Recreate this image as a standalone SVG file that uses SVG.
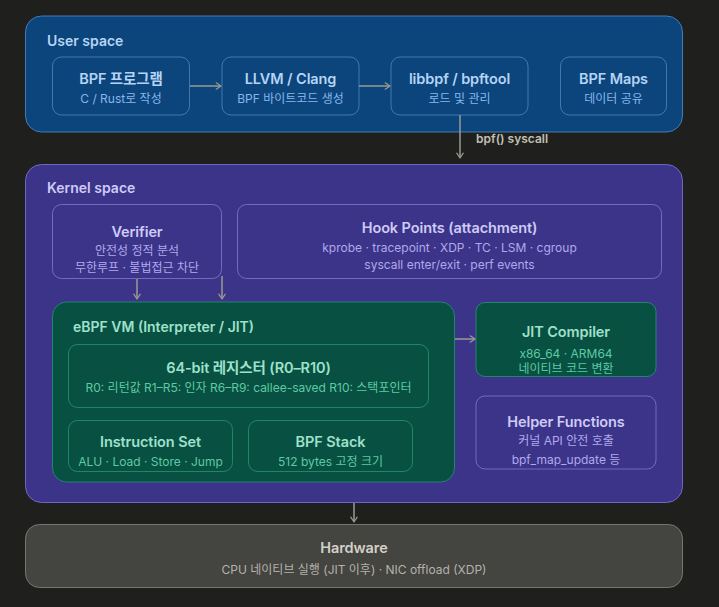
<svg xmlns="http://www.w3.org/2000/svg" width="719" height="607" viewBox="0 0 719 607">
<defs>
<marker id="arr" viewBox="0 0 10 10" refX="8" refY="5" markerWidth="8" markerHeight="8" orient="auto-start-reverse" markerUnits="userSpaceOnUse">
<path d="M2 1 L8 5 L2 9" fill="none" stroke="#9c9a92" stroke-width="1.5" stroke-linecap="round" stroke-linejoin="round"/>
</marker>
<style>
text{font-family:"Inter","Noto Sans CJK KR",sans-serif}
.t{font-size:14.5px;font-weight:600;text-anchor:middle;letter-spacing:-0.1px}
.s{font-size:12px;font-weight:400;text-anchor:middle}
.lbl{font-size:14px;font-weight:600}
.uo{fill:#0c447c;stroke:#4d8fd0;stroke-width:0.8}
.ub{fill:#0c447c;stroke:#5c8fc4;stroke-width:0.7}
.ut{fill:#b5d4f4}.us{fill:#85b7eb}
.ko{fill:#3c3489;stroke:#7f77dd;stroke-width:0.8}
.kb{fill:#3c3489;stroke:#8a83d6;stroke-width:0.7}
.kt{fill:#cecbf6}.ks{fill:#afa9ec}
.gb{fill:#085041;stroke:#2a9e78;stroke-width:0.7}
.gt{fill:#9fe1cb}.gs{fill:#5dcaa5}
.hb{fill:#444441;stroke:#888780;stroke-width:0.8}
.ht{fill:#d3d1c7}.hs{fill:#b4b2a9}
.c{stroke:#9c9a92;stroke-width:1.5;fill:none;marker-end:url(#arr)}
</style>
</defs>
<rect width="719" height="607" fill="#1f1f1d"/>

<g id="user-space">
<rect class="uo" x="25.5" y="16" width="657" height="116" rx="16"/>
<text class="lbl ut" x="47" y="46">User space</text>
</g>
<g id="bpf-program">
<rect class="ub" x="52.5" y="57" width="137" height="58" rx="9"/>
<text class="t ut" x="121" y="84">BPF 프로그램</text>
<text class="s us" x="121" y="103">C / Rust로 작성</text>
</g>
<g id="llvm">
<rect class="ub" x="222" y="57" width="137" height="58" rx="9"/>
<text class="t ut" x="290.5" y="84">LLVM / Clang</text>
<text class="s us" x="290.5" y="103">BPF 바이트코드 생성</text>
</g>
<g id="libbpf">
<rect class="ub" x="391" y="57" width="137" height="58" rx="9"/>
<text class="t ut" x="459.5" y="84">libbpf / bpftool</text>
<text class="s us" x="459.5" y="103">로드 및 관리</text>
</g>
<g id="bpf-maps">
<rect class="ub" x="560.5" y="57" width="106" height="58" rx="9"/>
<text class="t ut" x="613.5" y="84">BPF Maps</text>
<text class="s us" x="613.5" y="103">데이터 공유</text>
</g>

<g id="kernel-space">
<rect class="ko" x="25.5" y="164.5" width="657" height="338" rx="16"/>
<text class="lbl kt" x="47" y="193">Kernel space</text>
</g>
<g id="verifier">
<rect class="kb" x="52.5" y="204.5" width="169" height="74" rx="9"/>
<text class="t kt" x="137" y="237">Verifier</text>
<text class="s ks" x="137" y="255">안전성 정적 분석</text>
<text class="s ks" x="137" y="272">무한루프 · 불법접근 차단</text>
</g>
<g id="hook-points">
<rect class="kb" x="237.5" y="204.5" width="424" height="74" rx="9"/>
<text class="t kt" x="449.5" y="233">Hook Points (attachment)</text>
<text class="s ks" x="449.5" y="252">kprobe · tracepoint · XDP · TC · LSM · cgroup</text>
<text class="s ks" x="449.5" y="269">syscall enter/exit · perf events</text>
</g>

<g id="ebpf-vm">
<rect class="gb" x="52.5" y="302" width="402" height="180" rx="14"/>
<text class="lbl gt" x="73" y="332">eBPF VM (Interpreter / JIT)</text>
</g>
<g id="registers">
<rect class="gb" x="68.5" y="344.5" width="360" height="63" rx="9"/>
<text class="t gt" x="248.5" y="373">64-bit 레지스터 (R0–R10)</text>
<text class="s gs" x="248.5" y="392">R0: 리턴값 R1–R5: 인자 R6–R9: callee-saved R10: 스택포인터</text>
</g>
<g id="instruction-set">
<rect class="gb" x="68.5" y="420.5" width="164" height="51" rx="9"/>
<text class="t gt" x="150.5" y="447">Instruction Set</text>
<text class="s gs" x="150.5" y="466">ALU · Load · Store · Jump</text>
</g>
<g id="bpf-stack">
<rect class="gb" x="248.5" y="420.5" width="164" height="51" rx="9"/>
<text class="t gt" x="330.5" y="447">BPF Stack</text>
<text class="s gs" x="330.5" y="466">512 bytes 고정 크기</text>
</g>
<g id="jit-compiler">
<rect class="gb" x="476" y="302.5" width="180" height="74" rx="9"/>
<text class="t gt" x="566" y="337">JIT Compiler</text>
<text class="s gs" x="566" y="358">x86_64 · ARM64</text>
<text class="s gs" x="566" y="373">네이티브 코드 변환</text>
</g>
<g id="helper-functions">
<rect class="kb" x="476" y="396" width="180" height="73" rx="9"/>
<text class="t kt" x="566" y="427">Helper Functions</text>
<text class="s ks" x="566" y="445">커널 API 안전 호출</text>
<text class="s ks" x="566" y="464">bpf_map_update 등</text>
</g>

<g id="hardware">
<rect class="hb" x="25.5" y="524.5" width="657" height="63" rx="14"/>
<text class="t ht" x="354" y="553">Hardware</text>
<text class="s hs" x="354" y="574">CPU 네이티브 실행 (JIT 이후) · NIC offload (XDP)</text>
</g>

<g id="connectors">
<line class="c" x1="190" y1="86" x2="221" y2="86"/>
<line class="c" x1="359" y1="86" x2="390" y2="86"/>
<line class="c" x1="460" y1="115" x2="460" y2="158"/>
<text x="476" y="143" style="font-size:12px;font-weight:600" fill="#c2c0b6">bpf() syscall</text>
<line class="c" x1="137" y1="279" x2="137" y2="299"/>
<line class="c" x1="222" y1="276" x2="222" y2="299"/>
<line class="c" x1="455" y1="339" x2="475" y2="339"/>
<line class="c" x1="354" y1="503" x2="354" y2="522"/>
</g>
</svg>
